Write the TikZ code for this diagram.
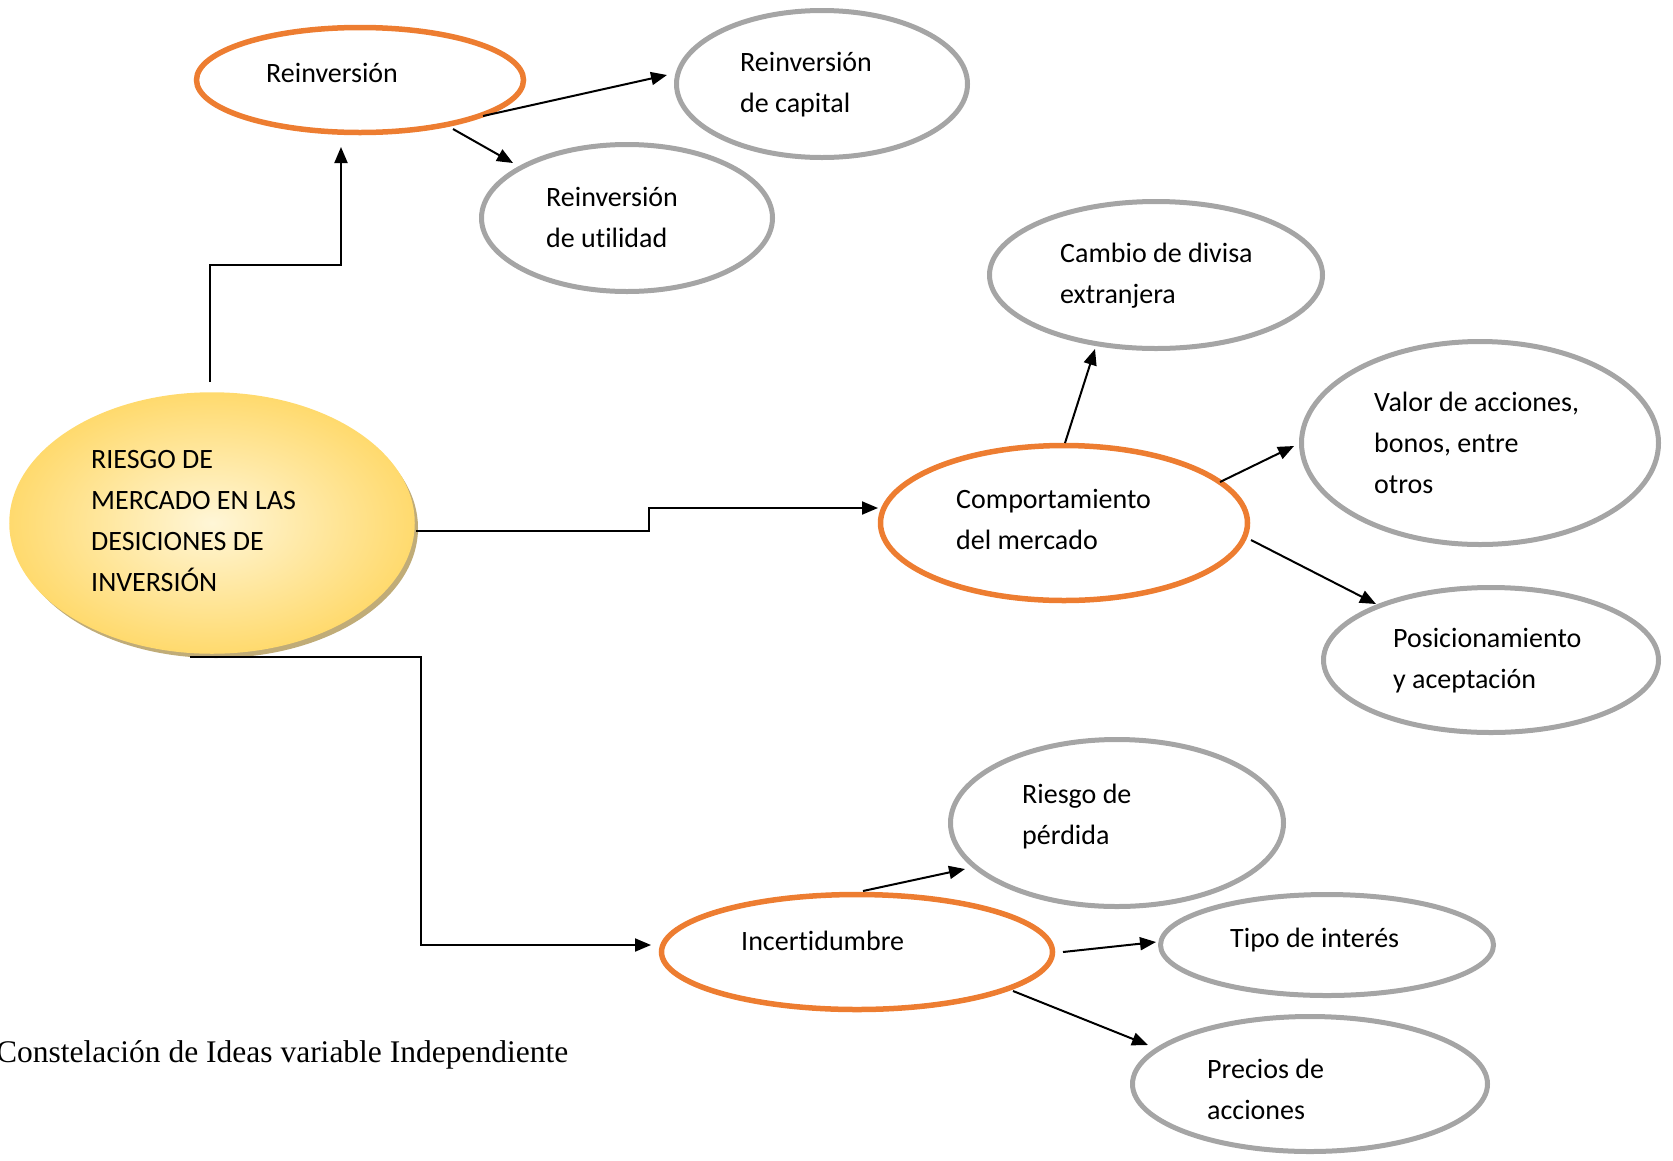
\documentclass[tikz,border=0pt]{standalone}
\usepackage{fontspec}
\setmainfont{Liberation Serif}
\newfontfamily\carl[Ligatures=NoCommon]{Carlito}
\usetikzlibrary{shapes.geometric,arrows.meta,calc}
\definecolor{orC}{RGB}{237,125,49}
\definecolor{grC}{RGB}{165,165,165}
\definecolor{goldA}{RGB}{255,246,215}
\definecolor{goldB}{RGB}{255,218,110}
\definecolor{shadowC}{RGB}{192,172,120}
\begin{document}
\begin{tikzpicture}[x=1pt,y=-1pt,
 oell/.style={ellipse, draw=orC, line width=5.5pt, inner sep=0pt},
 gell/.style={ellipse, draw=grC, line width=5pt, inner sep=0pt},
 conn/.style={line width=2pt, -{Triangle[length=16pt,width=13pt]}},
 lbl/.style={font=\carl\fontsize{28}{41}\selectfont, align=left, inner sep=0pt, anchor=west},
]
\useasboundingbox (0,0) rectangle (1673,1160);

% ellipses
\node[ellipse, fill=shadowC, minimum width=404pt, minimum height=260pt, inner sep=0pt] (mainsh) at (216,528) {};
\node[ellipse, draw=goldB, line width=1.5pt, inner color=goldA, outer color=goldB, minimum width=404pt, minimum height=260pt, inner sep=0pt] (main) at (212,523) {};

\node[oell, minimum width=327pt, minimum height=105pt] (reinv) at (360,80) {};
\node[gell, minimum width=291pt, minimum height=147pt] (capital) at (822,84) {};
\node[gell, minimum width=291pt, minimum height=147pt] (utilidad) at (627,218) {};
\node[gell, minimum width=333pt, minimum height=147pt] (cambio) at (1156,275) {};
\node[gell, minimum width=357pt, minimum height=203pt] (valor) at (1480,443) {};
\node[oell, minimum width=367pt, minimum height=155pt] (comport) at (1064,523) {};
\node[gell, minimum width=335pt, minimum height=145pt] (posic) at (1491,660) {};
\node[gell, minimum width=333pt, minimum height=167pt] (perdida) at (1117,823) {};
\node[oell, minimum width=391pt, minimum height=115pt] (incert) at (857,952) {};
\node[gell, minimum width=333pt, minimum height=101pt] (tipo) at (1327,945) {};
\node[gell, minimum width=355pt, minimum height=135pt] (precios) at (1310,1084) {};

% labels
\node[lbl] (tmain) at (91,521) {RIESGO DE\\MERCADO EN LAS\\DESICIONES DE\\INVERSIÓN};
\node[lbl] (treinv) at (266,73) {Reinversión};
\node[lbl] (tcapital) at (740,85) {Reinversión\\de capital};
\node[lbl] (tutilidad) at (546,217) {Reinversión\\de utilidad};
\node[lbl] (tcambio) at (1060,276) {Cambio de divisa\\extranjera};
\node[lbl] (tvalor) at (1374,443) {Valor de acciones,\\bonos, entre\\otros};
\node[lbl] (tcomport) at (956,519) {Comportamiento\\del mercado};
\node[lbl] (tposic) at (1393,661) {Posicionamiento\\y aceptación};
\node[lbl] (tperdida) at (1022,817) {Riesgo de\\pérdida};
\node[lbl] (tincert) at (741,941) {Incertidumbre};
\node[lbl] (ttipo) at (1230,940) {Tipo de interés};
\node[lbl] (tprecios) at (1207,1089) {Precios de\\acciones};

\node[anchor=base west, inner sep=0pt, font=\fontsize{31.5}{36}\selectfont] (caption) at (-4,1062) {Constelación de Ideas variable Independiente};

% connectors from main
\draw[conn] ($(main)+(-2,-141)$) -- ++(0,-117) -| ($(reinv)+(-19,67)$);
\draw[conn] ($(main)+(204,8)$) -- ++(233,0) |- ($(comport)+(-186,-15)$);
\draw[conn] ($(main)+(-22,134)$) -- ++(231,0) |- ($(incert)+(-206,-7)$);

% reinversion
\draw[conn] ($(reinv)+(123,36)$) -- ($(capital)+(-155,-9)$);
\draw[conn] ($(reinv)+(93,49)$) -- ($(utilidad)+(-114,-55)$);

% comportamiento
\draw[conn] ($(comport)+(1,-80)$) -- ($(cambio)+(-61,74)$);
\draw[conn] ($(comport)+(156,-41)$) -- ($(valor)+(-186,3)$);
\draw[conn] ($(comport)+(187,17)$) -- ($(posic)+(-115,-56)$);

% incertidumbre
\draw[conn] ($(incert)+(6,-61)$) -- ($(perdida)+(-152,46)$);
\draw[conn] ($(incert)+(206,0)$) -- ($(tipo)+(-171,-3)$);
\draw[conn] ($(incert)+(156,39)$) -- ($(precios)+(-162,-39)$);
\end{tikzpicture}
\end{document}
